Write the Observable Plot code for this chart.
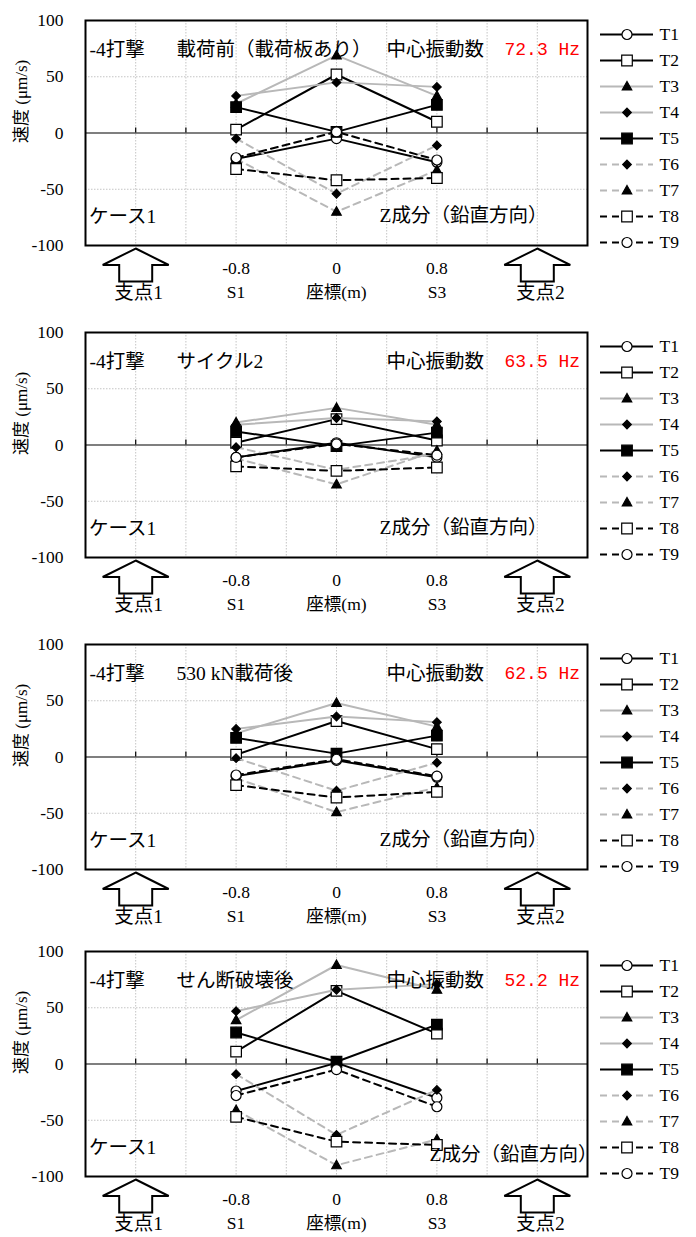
<!DOCTYPE html>
<html><head><meta charset="utf-8">
<script src="https://cdn.jsdelivr.net/npm/d3@7"></script>
<script src="https://cdn.jsdelivr.net/npm/@observablehq/plot@0.6"></script>
<style>
body{margin:0;background:#fff;}
#root{position:relative;width:696px;height:1237px;overflow:hidden;background:#fff;}
#root svg{position:absolute;overflow:visible;font-family:'Liberation Serif','Noto Sans CJK JP',serif;}
#root svg text{font-family:'Liberation Serif','Noto Sans CJK JP',serif;}
#root svg g[fill="#ff0000"] text{font-family:'Liberation Mono',monospace;}
</style></head><body><div id="root"></div>
<script>
// ---------- data ----------
const seriesNames = ["T1","T2","T3","T4","T5","T6","T7","T8","T9"];
const xPositions = [-0.8, 0, 0.8];
const xTickLabels = ["-0.8", "0", "0.8"];
const xSubLabels = ["S1", "座標(m)", "S3"];
const yTicks = [100, 50, 0, -50, -100];
const xGridTicks = [-1.6, -1.2, -0.8, -0.4, 0, 0.4, 0.8, 1.2, 1.6];
const yGridTicks = [-50, 50];
const supportX = [-1.6, 1.6];
const supportLabels = ["支点1", "支点2"];
const hitLabel = "-4打撃";
const panelSubtitles = ["載荷前（載荷板あり）", "サイクル2", "530 kN載荷後", "せん断破壊後"];
const freqLabel = "中心振動数";
const freqValues = ["72.3 Hz", "63.5 Hz", "62.5 Hz", "52.2 Hz"];
const caseLabel = "ケース1";
const componentLabel = "Z成分（鉛直方向）";
const yAxisLabel = "速度 (μm/s)";

// rows = T1..T9, columns = x at -0.8, 0, 0.8
const valuesBefore = [
  [-23, -5, -26], [3, 52, 10], [26, 69, 33], [33, 45, 41], [23, 1, 25],
  [-5, -54, -11], [-23, -70, -33], [-32, -42, -40], [-22, 1, -24]
];
const valuesCycle2 = [
  [-11, 2, -11], [2, 23, 4], [20, 33, 18], [18, 24, 21], [12, -1, 11],
  [-2, -22, -8], [-12, -35, -5], [-19, -23, -20], [-11, 1, -9]
];
const valuesAfter530 = [
  [-17, -3, -18], [2, 32, 7], [21, 48, 27], [25, 36, 31], [17, 3, 19],
  [-1, -30, -5], [-19, -49, -27], [-25, -36, -31], [-16, -2, -17]
];
const valuesShear = [
  [-24, 1, -30], [11, 65, 27], [39, 88, 66], [47, 66, 71], [28, 2, 35],
  [-9, -63, -23], [-41, -90, -67], [-47, -69, -72], [-28, -5, -38]
];
const panelValues = [valuesBefore, valuesCycle2, valuesAfter530, valuesShear];

// ---------- layout / styles ----------
const frameTops = [20, 332, 643.5, 950.5];
const componentOffsets = [[-40, -24], [-40, -24], [-40, -24], [10, -16]];
const SERIF = "'Liberation Serif','Noto Sans CJK JP',serif";
const GRAY = "#b8b8b8";
const DASH = "7,5";

const sym = (f) => ({draw(ctx, size){ f(ctx, Math.sqrt(size/Math.PI)); }});
const circleSym = sym((c,r)=>{c.moveTo(r,0); c.arc(0,0,r,0,2*Math.PI);});
const squareSym = sym((c,r)=>{c.rect(-r,-r,2*r,2*r);});
const diamondSym = sym((c,r)=>{c.moveTo(0,-r); c.lineTo(r,0); c.lineTo(0,r); c.lineTo(-r,0); c.closePath();});
const triangleSym = sym((c,r)=>{c.moveTo(0,-r); c.lineTo(r*0.95,r*0.7); c.lineTo(-r*0.95,r*0.7); c.closePath();});
const arrowSym = sym((c,r)=>{const h=r/2; c.moveTo(0,-h); c.lineTo(r,0); c.lineTo(h,0); c.lineTo(h,h); c.lineTo(-h,h); c.lineTo(-h,0); c.lineTo(-r,0); c.closePath();});

const styles = {
  T1: {stroke:"#000", dash:null, symbol:circleSym, r:5, fill:"#fff"},
  T2: {stroke:"#000", dash:null, symbol:squareSym, r:5.3, fill:"#fff"},
  T3: {stroke:GRAY, dash:null, symbol:triangleSym, r:5, fill:"#000"},
  T4: {stroke:GRAY, dash:null, symbol:diamondSym, r:4.3, fill:"#000"},
  T5: {stroke:"#000", dash:null, symbol:squareSym, r:5.3, fill:"#000"},
  T6: {stroke:GRAY, dash:DASH, symbol:diamondSym, r:4.3, fill:"#000"},
  T7: {stroke:GRAY, dash:DASH, symbol:triangleSym, r:5, fill:"#000"},
  T8: {stroke:"#000", dash:DASH, symbol:squareSym, r:5.3, fill:"#fff"},
  T9: {stroke:"#000", dash:DASH, symbol:circleSym, r:5, fill:"#fff"}
};

const root = document.getElementById("root");

panelValues.forEach((vals, p) => {
  const rows = [];
  seriesNames.forEach((s, i) => xPositions.forEach((x, j) => rows.push({series: s, x, v: vals[i][j]})));
  const seriesMarks = seriesNames.flatMap(s => {
    const st = styles[s];
    const data = rows.filter(d => d.series === s);
    return [
      Plot.line(data, {x:"x", y:"v", stroke: st.stroke, strokeWidth: 2, strokeDasharray: st.dash}),
      Plot.dot(data, {x:"x", y:"v", symbol: st.symbol, r: st.r, fill: st.fill, stroke:"#000", strokeWidth:1.2})
    ];
  });
  const [cdx, cdy] = componentOffsets[p];
  const chart = Plot.plot({
    width: 600, height: 300,
    marginLeft: 85, marginRight: 13, marginTop: 20, marginBottom: 55,
    x: {domain: [-2, 2]},
    y: {domain: [-100, 100]},
    style: {background: "transparent", overflow: "visible"},
    marks: [
      Plot.ruleX(xGridTicks, {x: d=>d, stroke:"#c4c4c4", strokeDasharray:"1.5,1.5"}),
      Plot.ruleY(yGridTicks, {y: d=>d, stroke:"#c4c4c4", strokeDasharray:"1.5,1.5"}),
      Plot.ruleY([0], {y: d=>d, stroke:"#000", strokeWidth:1.2}),
      Plot.ruleX(xGridTicks, {x: d=>d, y1: 0, y2: 0, insetTop: -5, stroke:"#000", strokeWidth:1.2}),
      Plot.axisY(yTicks, {tickSize: 0, tickPadding: 22, tickFormat: d => String(d), fontSize: 17.5, fontFamily: SERIF, fill: "#000", label: null}),
      Plot.axisX(xPositions, {tickSize: 0, tickPadding: 11, fontSize: 17.5, fontFamily: SERIF, fill: "#000", lineHeight: 1.4, label: null,
        tickFormat: d => { const k = xPositions.indexOf(d); return xTickLabels[k] + "\n" + xSubLabels[k]; }}),
      Plot.text([yAxisLabel], {text: d=>d, frameAnchor:"left", rotate:-90, dx:-64, dy:10, fontSize:17, fontFamily: SERIF}),
      Plot.dot(supportX, {x: d=>d, frameAnchor:"bottom", dy: 19.5, r: 33, symbol: arrowSym, fill:"#fff", stroke:"#000", strokeWidth:2}),
      Plot.text(supportLabels, {x: (d,i)=>supportX[i], text: d=>d, frameAnchor:"bottom", dx: 3, dy: 53, fontSize: 19.5, fontFamily: SERIF}),
      ...seriesMarks,
      Plot.frame({stroke:"#000", strokeWidth:2}),
      Plot.text([hitLabel], {text:d=>d, frameAnchor:"top-left", textAnchor:"start", dx:4, dy:22, fontSize:19.5, fontFamily: SERIF}),
      Plot.text([panelSubtitles[p]], {text:d=>d, frameAnchor:"top-left", textAnchor:"start", dx:91, dy:22, fontSize:19.5, fontFamily: SERIF}),
      Plot.text([freqLabel], {text:d=>d, frameAnchor:"top-left", textAnchor:"start", dx:301, dy:22, fontSize:19.5, fontFamily: SERIF}),
      Plot.text([freqValues[p]], {text:d=>d, frameAnchor:"top-left", textAnchor:"start", dx:419, dy:22, fontSize:18, fontFamily:"'Liberation Mono',monospace", fill:"#ff0000"}),
      Plot.text([caseLabel], {text:d=>d, frameAnchor:"bottom-left", textAnchor:"start", dx:3.5, dy:-23, fontSize:19.5, fontFamily: SERIF}),
      Plot.text([componentLabel], {text:d=>d, frameAnchor:"bottom-right", textAnchor:"end", dx:cdx, dy:cdy, fontSize:19.5, fontFamily: SERIF})
    ]
  });
  chart.style.left = "0px";
  chart.style.top = (frameTops[p] - 20) + "px";
  root.appendChild(chart);

  const legend = Plot.plot({
    width: 106, height: 252,
    marginLeft: 10, marginRight: 43, marginTop: 33, marginBottom: 10,
    y: {type: "point", domain: seriesNames, padding: 0, axis: null},
    style: {background: "transparent", overflow: "visible"},
    marks: seriesNames.flatMap(s => {
      const st = styles[s];
      return [
        Plot.ruleY([s], {y: d=>d, stroke: st.stroke, strokeWidth: 2, strokeDasharray: st.dash}),
        Plot.dot([s], {y: d=>d, symbol: st.symbol, r: st.r, fill: st.fill, stroke:"#000", strokeWidth:1.2}),
        Plot.text([s], {y: d=>d, text: d=>d, frameAnchor:"right", textAnchor:"start", dx: 6, fontSize: 17.5, fontFamily: SERIF})
      ];
    })
  });
  legend.style.left = "590px";
  legend.style.top = (frameTops[p] - 20) + "px";
  root.appendChild(legend);
});
</script></body></html>
